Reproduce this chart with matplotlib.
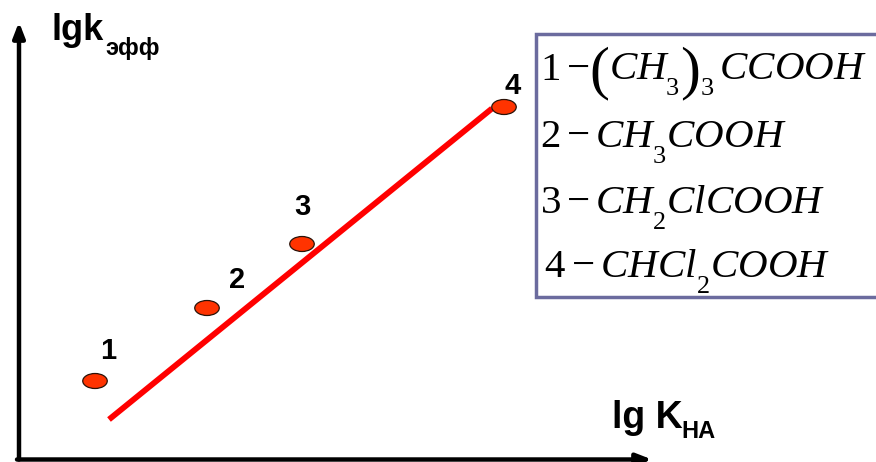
import matplotlib
matplotlib.use("Agg")
import matplotlib.pyplot as plt
from matplotlib.patches import Ellipse, Rectangle

plt.rcParams['mathtext.fontset'] = 'custom'
plt.rcParams['mathtext.rm'] = 'Liberation Serif'
plt.rcParams['mathtext.it'] = 'Liberation Serif:italic'
plt.rcParams['mathtext.bf'] = 'Liberation Serif:bold'

# deeper / larger subscripts like the original formula editor output
try:
    import matplotlib._mathtext as _mt
    _mt.SHRINK_FACTOR = 0.64
    _mt.FontConstantsBase.sub1 = 0.85
except Exception:
    pass

# data (schematic units: lg K_HA, lg k_eff)
point_labels = ["1", "2", "3", "4"]
lgK = [0.76, 1.88, 2.83, 4.85]
lgk = [0.785, 1.515, 2.155, 3.525]
fit_x = [0.90, 4.73]
fit_y = [0.40, 3.51]
legend_lines = [[r"$1-$", "(", r"$CH_3$", ")", r"${}_3\,CCOOH$"],
                [r"$2-CH_3COOH$"],
                [r"$3-CH_2ClCOOH$"],
                [r"$\,4-CHCl_2COOH$"]]

W, H = 876, 462
fig = plt.figure(figsize=(W / 100, H / 100), dpi=100)
ax = fig.add_axes([0, 0, 1, 1])
x0, y0 = 19, 459.5  # pixel origin
ax.set_xlim(-x0 / 100, (W - x0) / 100)
ax.set_ylim(-(H - y0) / 100, y0 / 100)
ax.axis('off')
renderer = fig.canvas.get_renderer()


def px(x):
    return (x - x0) / 100


def py(y):
    return (y0 - y) / 100


# axes arrows
ax.annotate("", xy=(0, py(22)), xytext=(0, 0),
            arrowprops=dict(arrowstyle="-|>,head_length=0.9,head_width=0.35",
                            lw=3.2, color="black", shrinkA=0, shrinkB=0))
ax.annotate("", xy=(px(652), 0), xytext=(-0.02, 0),
            arrowprops=dict(arrowstyle="-|>,head_length=0.9,head_width=0.35",
                            lw=3.2, color="black", shrinkA=0, shrinkB=0))

# fit line
ax.plot(fit_x, fit_y, color="#FF0000", lw=4.2, solid_capstyle='butt', zorder=2)

# points
for xi, yi in zip(lgK, lgk):
    ax.add_patch(Ellipse((xi, yi), 0.245, 0.15, facecolor="#FF3300",
                         edgecolor="#2a1208", lw=0.9, zorder=3))

# point labels
lab_off = [(0.13, 0.30), (0.30, 0.28), (0.0, 0.37), (0.085, 0.205)]
for t, xi, yi, (dx, dy) in zip(point_labels, lgK, lgk, lab_off):
    ax.text(xi + dx, yi + dy, t, fontsize=21, fontweight='bold',
            family='Liberation Sans', ha='center', va='center', zorder=4)

# axis titles
t1 = ax.text(px(52), py(40), "lgk", fontsize=26, fontweight='bold',
             family='Liberation Sans', ha='left', va='baseline')
e1 = t1.get_window_extent(renderer)
ax.text(px(e1.x1 + 1), py(55), "эфф", fontsize=17, fontweight='bold',
        family='Liberation Sans', ha='left', va='baseline')
ax.text(px(612), py(428), "lg K", fontsize=27, fontweight='bold',
        family='Liberation Sans', ha='left', va='baseline')
ax.text(px(681), py(438), "HA", fontsize=17, fontweight='bold',
        family='Liberation Sans', ha='left', va='baseline')

# legend box
ax.add_patch(Rectangle((px(536), py(297)), 3.6, 2.63,
                       facecolor="white", edgecolor="#6B6B9E", lw=2.5, zorder=1))
baselines = [80, 148, 214, 278]
for pieces, b in zip(legend_lines, baselines):
    x = 540
    for s in pieces:
        if s in ("(", ")"):
            t = ax.text(px(x), py(b + 7), s, fontsize=43, family='Liberation Serif',
                        ha='left', va='baseline', zorder=5)
        else:
            t = ax.text(px(x), py(b), s, fontsize=29.5, ha='left',
                        va='baseline', zorder=5)
        x += t.get_window_extent(renderer).width

fig.savefig("out.png", dpi=100)
